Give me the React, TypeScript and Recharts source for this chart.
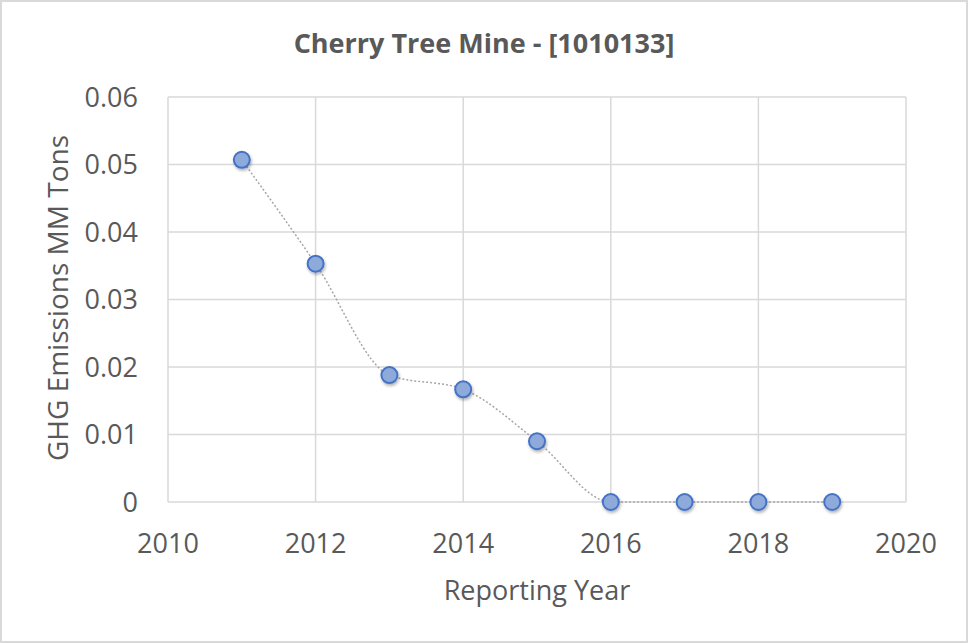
import React from 'react';
import {
  LineChart,
  Line,
  XAxis,
  YAxis,
  CartesianGrid,
  Label,
} from 'recharts';

const years = [2011, 2012, 2013, 2014, 2015, 2016, 2017, 2018, 2019];
const emissions = [0.0507, 0.0353, 0.0188, 0.0167, 0.009, 0, 0, 0, 0];
const xTicks = [2010, 2012, 2014, 2016, 2018, 2020];
const yTicks = [0, 0.01, 0.02, 0.03, 0.04, 0.05, 0.06];

const data = years.map((year, i) => ({ year, value: emissions[i] }));

const font = '"Open Sans", sans-serif';
const textColor = '#595959';

export default function App() {
  return (
    <div
      style={{
        position: 'relative',
        width: 968,
        height: 643,
        background: '#fff',
        boxShadow: 'inset 0 0 0 2px #d9d9d9',
        fontFamily: font,
      }}
    >
      <style>{'body{margin:0}'}</style>
      <div
        style={{
          position: 'absolute',
          top: 25,
          left: 0,
          width: 968,
          textAlign: 'center',
          fontSize: 27,
          fontWeight: 700,
          color: textColor,
          lineHeight: '36px',
        }}
      >
        Cherry Tree Mine - [1010133]
      </div>
      <LineChart
        width={968}
        height={643}
        data={data}
        margin={{ top: 97, right: 62, left: 0, bottom: 0 }}
        style={{ position: 'absolute', top: 0, left: 0 }}
      >
        <defs>
          <filter id="dotShadow" x="-50%" y="-50%" width="200%" height="200%">
            <feDropShadow dx="1" dy="2" stdDeviation="1.5" floodColor="#000" floodOpacity="0.3" />
          </filter>
        </defs>
        <CartesianGrid stroke="#d9d9d9" strokeWidth={1.5} />
        <XAxis
          dataKey="year"
          type="number"
          domain={[2010, 2020]}
          ticks={xTicks}
          height={141}
          axisLine={false}
          tickLine={false}
          tickSize={0}
          tickMargin={32}
          tick={{ fill: textColor, fontSize: 27, fontFamily: font }}
        >
          <Label
            value="Reporting Year"
            position="insideBottom"
            offset={43}
            style={{ fill: textColor, fontSize: 27, fontFamily: font }}
          />
        </XAxis>
        <YAxis
          type="number"
          domain={[0, 0.06]}
          ticks={yTicks}
          width={168}
          axisLine={false}
          tickLine={false}
          tickSize={0}
          tickMargin={30}
          tick={{ fill: textColor, fontSize: 27, fontFamily: font }}
        >
          <Label
            content={() => (
              <text
                x={57}
                y={298}
                transform="rotate(-90, 57, 298)"
                textAnchor="middle"
                dominantBaseline="central"
                fill={textColor}
                fontSize={28}
                fontFamily={font}
              >
                GHG Emissions MM Tons
              </text>
            )}
          />
        </YAxis>
        <Line
          type="monotone"
          dataKey="value"
          stroke="#a6a6a6"
          strokeWidth={1.5}
          strokeDasharray="2 2"
          dot={{
            r: 8,
            fill: '#8eaadb',
            stroke: '#4472c4',
            strokeWidth: 2,
            strokeDasharray: '0',
            filter: 'url(#dotShadow)',
          }}
          activeDot={false}
          isAnimationActive={false}
        />
      </LineChart>
    </div>
  );
}
